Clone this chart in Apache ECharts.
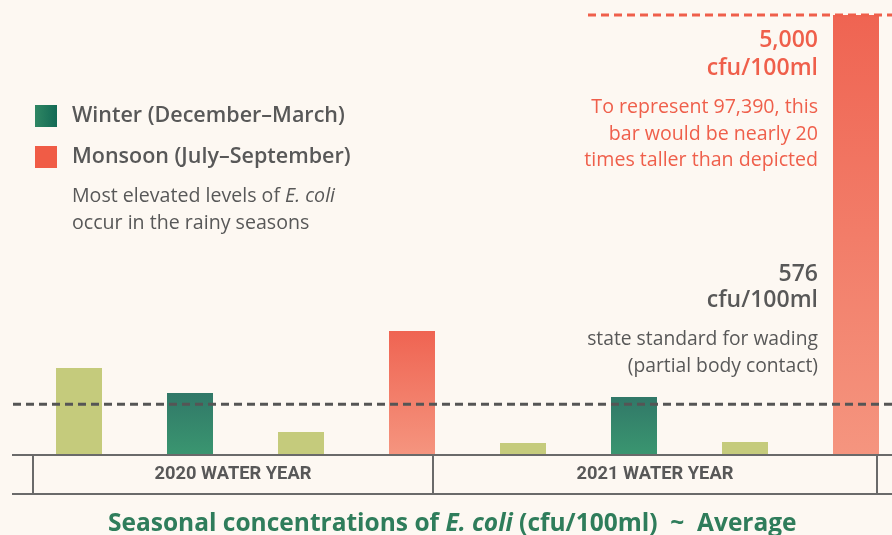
<!DOCTYPE html>
<html><head><meta charset="utf-8">
<script src="https://cdn.jsdelivr.net/npm/echarts@6/dist/echarts.min.js"></script>
<style>html,body{margin:0;padding:0;background:#fdf8f2;overflow:hidden;} #c{width:892px;height:535px;}</style>
</head><body><div id="c"></div>
<script>
// ---- data ----
const categories = ['Fall 2020','Winter 2020','Spring 2020','Monsoon 2020','Fall 2021','Winter 2021','Spring 2021','Monsoon 2021'];
const seasons = ['Fall','Winter','Spring','Monsoon','Fall','Winter','Spring','Monsoon'];
const values = [990, 705, 261, 1409, 136, 659, 148, 5000]; // Monsoon 2021 drawn capped at 5,000
const actualMonsoon2021 = 97390;
const waterYears = ['2020 WATER YEAR', '2021 WATER YEAR'];
const standardWading = 576;
const displayCap = 5000;
const seasonNames = {
  Fall: 'Fall (October–November)',
  Winter: 'Winter (December–March)',
  Spring: 'Spring (April–June)',
  Monsoon: 'Monsoon (July–September)'
};

// ---- styles ----
const FONT = 'Open Sans';
const GREY = '#585858';
const RED = '#ef5f4b';
const grad = (a, b) => new echarts.graphic.LinearGradient(0, 0, 0, 1, [{offset: 0, color: a}, {offset: 1, color: b}]);
const seasonColor = {
  Fall: '#c5cb7c',
  Spring: '#c5cb7c',
  Winter: grad('#317868', '#3a9670'),
  Monsoon: grad('#ef6452', '#f5957f')
};

const chart = echarts.init(document.getElementById('c'), null, {renderer: 'canvas'});
const seriesOrder = ['Fall', 'Winter', 'Spring', 'Monsoon'];
const series = seriesOrder.map(s => ({
  name: seasonNames[s],
  type: 'bar',
  stack: 'all',
  barWidth: 46,
  itemStyle: {color: seasonColor[s]},
  data: values.map((v, i) => seasons[i] === s ? v : '-'),
  z: 2
}));

chart.setOption({
  backgroundColor: '#fdf8f2',
  animation: false,
  title: {
    text: '{a|Seasonal concentrations of }{b|E. coli}{a| (cfu/100ml)  ~  Average}',
    left: 103,
    top: 507,
    textStyle: {
      rich: {
        a: {fontFamily: FONT, fontWeight: 'bold', fontSize: 24.5, color: '#2f7d5b'},
        b: {fontFamily: FONT, fontWeight: 'bold', fontStyle: 'italic', fontSize: 24.5, color: '#2f7d5b'}
      }
    }
  },
  legend: {
    orient: 'vertical',
    left: 35, top: 105, padding: 0,
    itemWidth: 22, itemHeight: 22, itemGap: 19,
    icon: 'rect',
    selectedMode: false,
    textStyle: {fontFamily: FONT, fontSize: 21.5, fontWeight: 600, color: GREY, lineHeight: 22, padding: [0, 0, 0, 10]},
    data: [
      {name: seasonNames.Winter, itemStyle: {color: new echarts.graphic.LinearGradient(0, 0, 1, 0, [{offset: 0, color: '#2f8663'}, {offset: 1, color: '#136a55'}])}},
      {name: seasonNames.Monsoon, itemStyle: {color: '#f05c46'}}
    ]
  },
  grid: {left: 23.5, width: 888, top: 15, bottom: 80, containLabel: false, outerBoundsMode: 'none'},
  xAxis: {
    type: 'category', data: categories,
    axisLine: {show: false}, axisTick: {show: false}, axisLabel: {show: false}
  },
  yAxis: {
    type: 'value', min: 0, max: displayCap,
    show: false, splitLine: {show: false}
  },
  series: series
});

// ---- decorations positioned through the chart's own scales ----
const px = (cat, val) => chart.convertToPixel({gridIndex: 0}, [cat, val]);
const baseY = px(0, 0)[1];
const stdY = px(0, standardWading)[1];
const capY = px(0, displayCap)[1];
const half = 23;
const x0 = px(0, 0)[0] - 46;
const xDiv = px(3, 0)[0] + half - 2;
const xEnd = px(7, 0)[0] + half - 2;
const boxBottom = baseY + 39;
const lineStyle = {stroke: '#6a6a6a', lineWidth: 2};
const W = 892;

const g = [];
g.push({type: 'line', shape: {x1: 12, y1: baseY, x2: W, y2: baseY}, style: lineStyle, z: 100});
g.push({type: 'line', shape: {x1: 12, y1: boxBottom, x2: W, y2: boxBottom}, style: lineStyle, z: 100});
[x0, xDiv, xEnd].forEach(x => g.push({type: 'line', shape: {x1: x, y1: baseY, x2: x, y2: boxBottom + 1}, style: lineStyle, z: 100}));
const yearFont = 'bold 18.3px Roboto';
g.push({type: 'text', x: (x0 + xDiv) / 2, y: (baseY + boxBottom) / 2,
  style: {text: waterYears[0], fill: GREY, font: yearFont, textAlign: 'center', textVerticalAlign: 'middle'}, z: 100});
g.push({type: 'text', x: (xDiv + xEnd) / 2, y: (baseY + boxBottom) / 2,
  style: {text: waterYears[1], fill: GREY, font: yearFont, textAlign: 'center', textVerticalAlign: 'middle'}, z: 100});
// standard line
g.push({type: 'line', shape: {x1: 13, y1: stdY, x2: W, y2: stdY}, style: {stroke: '#555', lineWidth: 3, lineDash: [8, 5]}, z: 120});
// cap line
g.push({type: 'line', shape: {x1: 588, y1: capY, x2: W, y2: capY}, style: {stroke: RED, lineWidth: 3, lineDash: [8, 5]}, z: 120});

const fmt = n => n.toLocaleString('en-US');
const rightX = 818;
const BIG = '600 23px "Open Sans"';
const SMALL = '19.6px "Open Sans"';
const txt = (text, y, font, fill) => g.push({type: 'text', x: rightX, y: y,
  style: {text: text, fill: fill, font: font, textAlign: 'right', textVerticalAlign: 'middle'}, z: 100});
txt(fmt(displayCap), 40, BIG, RED);
txt('cfu/100ml', 68, BIG, RED);
txt('To represent ' + fmt(actualMonsoon2021) + ', this', 107, SMALL, RED);
txt('bar would be nearly ' + Math.ceil(actualMonsoon2021 / displayCap), 134, SMALL, RED);
txt('times taller than depicted', 160, SMALL, RED);
txt(String(standardWading), 274, BIG, GREY);
txt('cfu/100ml', 300, BIG, GREY);
txt('state standard for wading', 340, '19.3px "Open Sans"', GREY);
txt('(partial body contact)', 367, '19.3px "Open Sans"', GREY);

// subtitle under legend
g.push({type: 'text', x: 72, y: 196, style: {
  text: '{a|Most elevated levels of }{b|E. coli}', textVerticalAlign: 'middle',
  rich: {a: {font: SMALL, fill: GREY}, b: {font: 'italic ' + SMALL, fill: GREY}}}, z: 100});
g.push({type: 'text', x: 72, y: 223, style: {text: 'occur in the rainy seasons', fill: GREY, font: SMALL, textVerticalAlign: 'middle'}, z: 100});

chart.setOption({graphic: g});
</script></body></html>
